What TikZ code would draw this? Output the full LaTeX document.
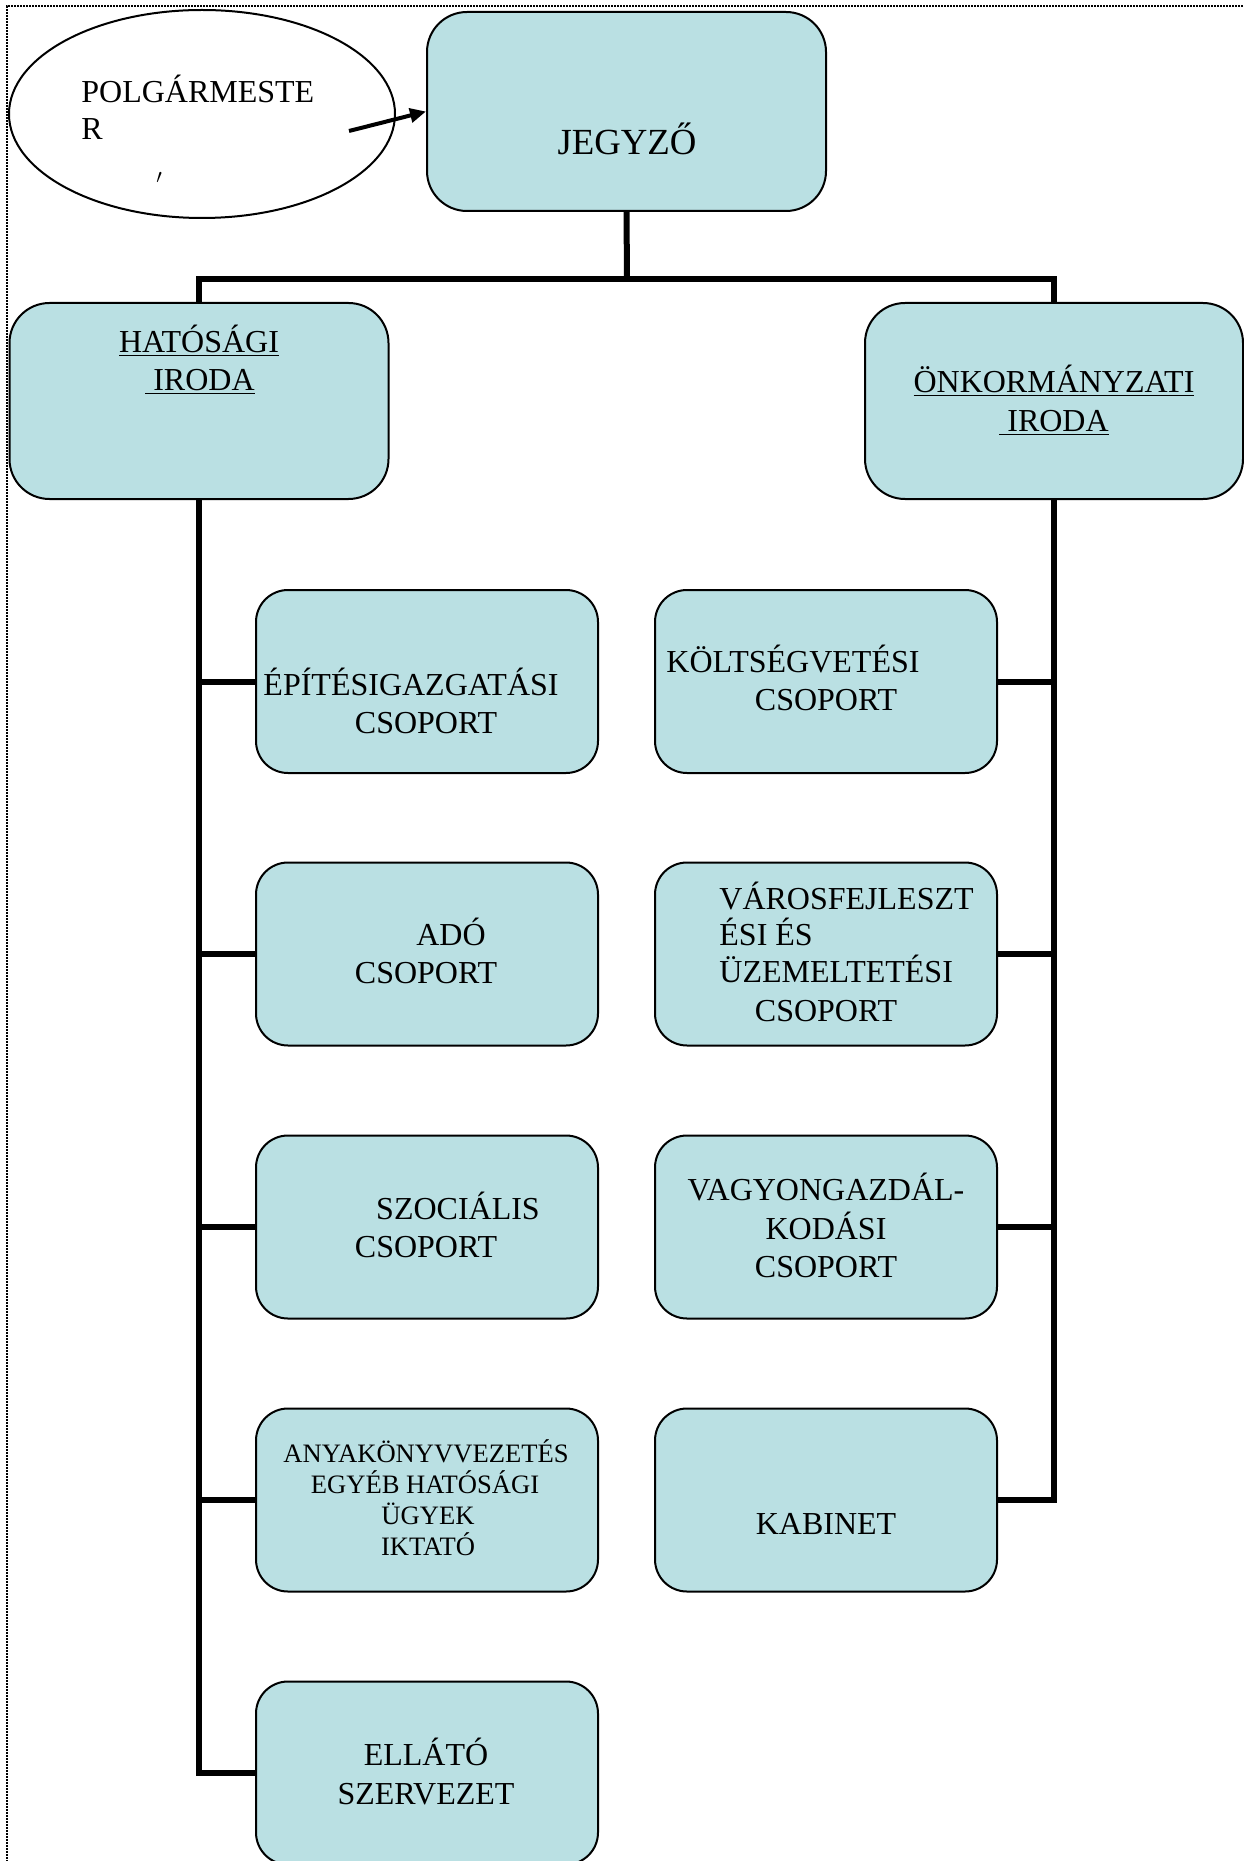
\documentclass[tikz,border=0pt]{standalone}
\usepackage{fontspec}
\setmainfont{Liberation Serif}
\usetikzlibrary{arrows.meta,shapes.geometric}
\definecolor{boxfill}{RGB}{186,224,227}
\tikzset{
  box/.style={draw=black, line width=1pt, fill=boxfill, rounded corners=16pt,
    minimum width=171pt, minimum height=91.5pt, inner sep=0pt},
  bigbox/.style={box, rounded corners=20pt},
  conn/.style={line width=3pt, line join=miter},
  ln/.style={font=\fontsize{16}{19}\selectfont, inner sep=0pt, text height=10.6pt, text depth=0pt},
  sm/.style={font=\fontsize{13.3}{15.5}\selectfont, inner sep=0pt, text height=8.8pt, text depth=0pt},
}
\begin{document}
\begin{tikzpicture}[x=0.5pt,y=-0.5pt]
\useasboundingbox (0,0) rectangle (1243,1861);
\draw[line width=0.8pt, dash pattern=on 0.8pt off 0.7pt, black] (1243,6) -- (7,6) -- (7,1861);

% top
\node[draw, ellipse, line width=1pt, minimum width=193pt, minimum height=104pt, inner sep=0pt] (pm) at (202,114) {};
\node[ln, anchor=west] (pm1) at (81,92) {POLGÁRMESTE};
\node[ln, anchor=west] (pm2) at (81,129) {R};
\node[inner sep=0pt, font=\fontsize{10}{12}\selectfont] (tick) at (159,178) {$\prime$};
\node[bigbox, minimum width=199.5pt, minimum height=99.5pt] (jegy) at (626.5,111.5) {};
\node[font=\fontsize{18.4}{22}\selectfont, inner sep=0pt, text height=12.2pt, text depth=0pt] (jegyt) at (627,142) {JEGYZŐ};
\coordinate (as) at (349,131);
\draw[line width=2pt, -{Triangle[length=8pt,width=7pt]}] (as) -- (jegy.west);

% offices
\node[bigbox, minimum width=189.5pt, minimum height=98pt] (hat) at (199,401) {};
\node[ln] (hat1) at (199,342) {\underline{HATÓSÁGI}};
\node[ln] (hat2) at (200,380) {\underline{\ IRODA}};
\node[bigbox, minimum width=189pt, minimum height=98pt] (onk) at (1054,401) {};
\node[ln] (onk1) at (1054,382) {\underline{ÖNKORMÁNYZATI}};
\node[ln] (onk2) at (1054,421) {\underline{\ IRODA}};

\coordinate (bus) at (627,279);
\draw[conn] (jegy.south) -- (bus);
\draw[conn] (hat.north) |- (bus) -| (onk.north);

% left column
\node[box] (l1) at (427,681.5) {};
\node[box] (l2) at (427,954) {};
\node[box] (l3) at (427,1227) {};
\node[box] (l4) at (427,1500) {};
\node[box] (l5) at (427,1773) {};
% right column
\node[box] (r1) at (826,681.5) {};
\node[box] (r2) at (826,954) {};
\node[box] (r3) at (826,1227) {};
\node[box] (r4) at (826,1500) {};

\draw[conn] (hat.south) |- (l5.west);
\foreach \n in {l1,l2,l3,l4} \draw[conn] (hat.south |- \n.west) -- (\n.west);
\draw[conn] (onk.south) |- (r4.east);
\foreach \n in {r1,r2,r3} \draw[conn] (onk.south |- \n.east) -- (\n.east);

% texts left
\node[ln] (t11) at (411,685) {ÉPÍTÉSIGAZGATÁSI};
\node[ln] (t12) at (426,723) {CSOPORT};
\node[ln] (t21) at (451,935) {ADÓ};
\node[ln] (t22) at (426,973) {CSOPORT};
\node[ln] (t31) at (458,1209) {SZOCIÁLIS};
\node[ln] (t32) at (426,1247) {CSOPORT};
\node[sm] (t41) at (426,1454) {ANYAKÖNYVVEZETÉS};
\node[sm] (t42) at (425,1485) {EGYÉB HATÓSÁGI};
\node[sm] (t43) at (428,1516) {ÜGYEK};
\node[sm] (t44) at (428,1547) {IKTATÓ};
\node[ln] (t51) at (426,1755) {ELLÁTÓ};
\node[ln] (t52) at (426,1794) {SZERVEZET};

% texts right
\node[ln] (s11) at (793,662) {KÖLTSÉGVETÉSI};
\node[ln] (s12) at (826,700) {CSOPORT};
\node[ln, anchor=west] (s21) at (719,899) {VÁROSFEJLESZT};
\node[ln, anchor=west] (s22) at (719,935) {ÉSI ÉS};
\node[ln, anchor=west] (s23) at (719,972) {ÜZEMELTETÉSI};
\node[ln] (s24) at (826,1011) {CSOPORT};
\node[ln] (s31) at (826,1190) {VAGYONGAZDÁL-};
\node[ln] (s32) at (826,1229) {KODÁSI};
\node[ln] (s33) at (826,1267) {CSOPORT};
\node[ln] (s41) at (826,1524) {KABINET};
\end{tikzpicture}
\end{document}
